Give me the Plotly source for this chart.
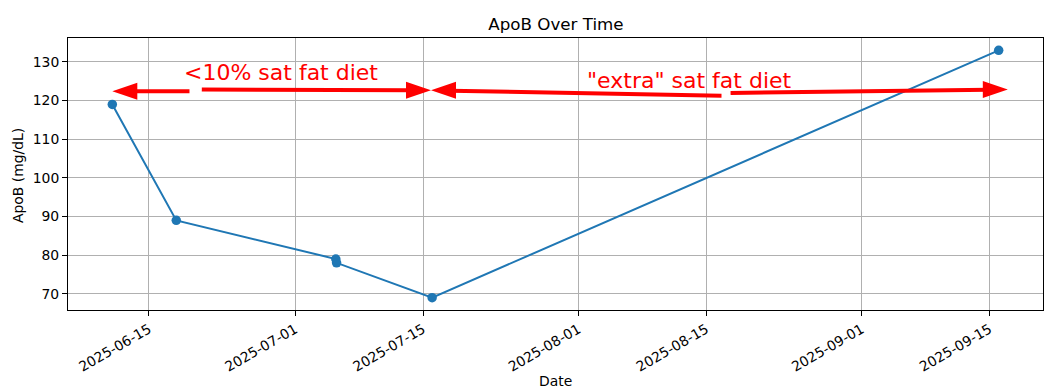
import plotly.graph_objects as go
import pandas as pd

# ---- data ----
dates = ["2025-06-11 00:00", "2025-06-18 00:00", "2025-07-05 11:00", "2025-07-05 13:00",
         "2025-07-16 00:00", "2025-09-16 00:00"]
apob = [119, 89, 79, 78, 69, 133]
x_ticks = ["2025-06-15", "2025-07-01", "2025-07-15", "2025-08-01",
           "2025-08-15", "2025-09-01", "2025-09-15"]
y_ticks = [70, 80, 90, 100, 110, 120, 130]
title_text = "ApoB Over Time"
phase_labels = ["<10% sat fat diet", '"extra" sat fat diet']
phase_label_x = ["2025-06-29 10:00", "2025-08-13 05:00"]
phase_label_y = [127.4, 125.25]
# arrows: (tail date, tail value, tip date, tip value)
arrow_tail_x = ["2025-06-19 10:40", "2025-06-20 19:00", "2025-08-16 16:00", "2025-08-17 15:50"]
arrow_tail_y = [122.4, 122.84, 121.28, 121.98]
arrow_tip_x = ["2025-06-11 00:00", "2025-07-15 21:00", "2025-07-15 21:00", "2025-09-17 00:00"]
arrow_tip_y = [122.4, 122.66, 122.66, 122.84]

RED = "#ff0000"
BLUE = "#1f77b4"
FONT = "DejaVu Sans"

fig = go.Figure()
fig.add_trace(go.Scatter(
    x=pd.to_datetime(dates, format="mixed"), y=apob, mode="lines+markers",
    line=dict(color=BLUE, width=2), marker=dict(color=BLUE, size=9.5),
    showlegend=False, hoverinfo="skip"))

shapes = []
head_len, head_half = 25, 8.5
for tx, ty, hx, hy in zip(arrow_tail_x, arrow_tail_y, arrow_tip_x, arrow_tip_y):
    t0 = pd.Timestamp(tx)
    t1 = pd.Timestamp(hx)
    total = (t0 - t1)
    frac = pd.Timedelta(hours=50) / abs(total)
    base_x = t1 + total * frac
    base_y = hy + (ty - hy) * frac
    shapes.append(dict(type="line", xref="x", yref="y", x0=t0, y0=ty,
                       x1=base_x, y1=base_y, line=dict(color=RED, width=4)))
    d = 1 if t0 > t1 else -1
    path = f"M0,0 L{d*head_len},{head_half} L{d*head_len},{-head_half} Z"
    shapes.append(dict(type="path", xref="x", yref="y", xsizemode="pixel",
                       ysizemode="pixel", xanchor=t1, yanchor=hy, path=path,
                       fillcolor=RED, line=dict(color=RED, width=0)))

annotations = []
for txt, lx, ly in zip(phase_labels, phase_label_x, phase_label_y):
    annotations.append(dict(text=txt, x=pd.Timestamp(lx), y=ly, xref="x", yref="y",
                            showarrow=False, xanchor="center", yanchor="middle",
                            font=dict(family=FONT, size=22, color=RED)))
annotations.append(dict(text="Date", x=0.5, y=-0.262, xref="paper", yref="paper",
                        showarrow=False, xanchor="center", yanchor="middle",
                        font=dict(family=FONT, size=13.9, color="black")))
annotations.append(dict(text="ApoB (mg/dL)", x=-0.0506, y=0.495, xref="paper", yref="paper",
                        showarrow=False, xanchor="center", yanchor="middle", textangle=-90,
                        font=dict(family=FONT, size=13.9, color="black")))

fig.update_layout(
    width=1044, height=389,
    margin=dict(l=68, r=1, t=38, b=79),
    paper_bgcolor="white", plot_bgcolor="white",
    title=dict(text=title_text, x=0.5325, xanchor="center", y=0.9378, yref="container",
               yanchor="middle", font=dict(family=FONT, size=16.7, color="black")),
    shapes=shapes, annotations=annotations,
    xaxis=dict(type="date", range=["2025-06-06 03:36", "2025-09-20 20:24"],
               tickvals=pd.to_datetime(x_ticks), tickformat="%Y-%m-%d", tickangle=-30,
               showgrid=True, gridcolor="#b0b0b0", gridwidth=1,
               showline=True, linecolor="black", linewidth=1, mirror=True,
               ticks="outside", ticklen=5, tickcolor="black", tickwidth=1,
               tickfont=dict(family=FONT, size=13.9, color="black"), zeroline=False),
    yaxis=dict(range=[65.8, 136.2], tickvals=y_ticks,
               showgrid=True, gridcolor="#b0b0b0", gridwidth=1,
               showline=True, linecolor="black", linewidth=1, mirror=True,
               ticks="outside", ticklen=5, tickcolor="black", tickwidth=1,
               tickfont=dict(family=FONT, size=13.9, color="black"), zeroline=False),
)

fig.write_html("out.html", config={"displayModeBar": False, "staticPlot": True},
               post_script="document.body.style.margin='0';document.body.style.overflow='hidden';")
